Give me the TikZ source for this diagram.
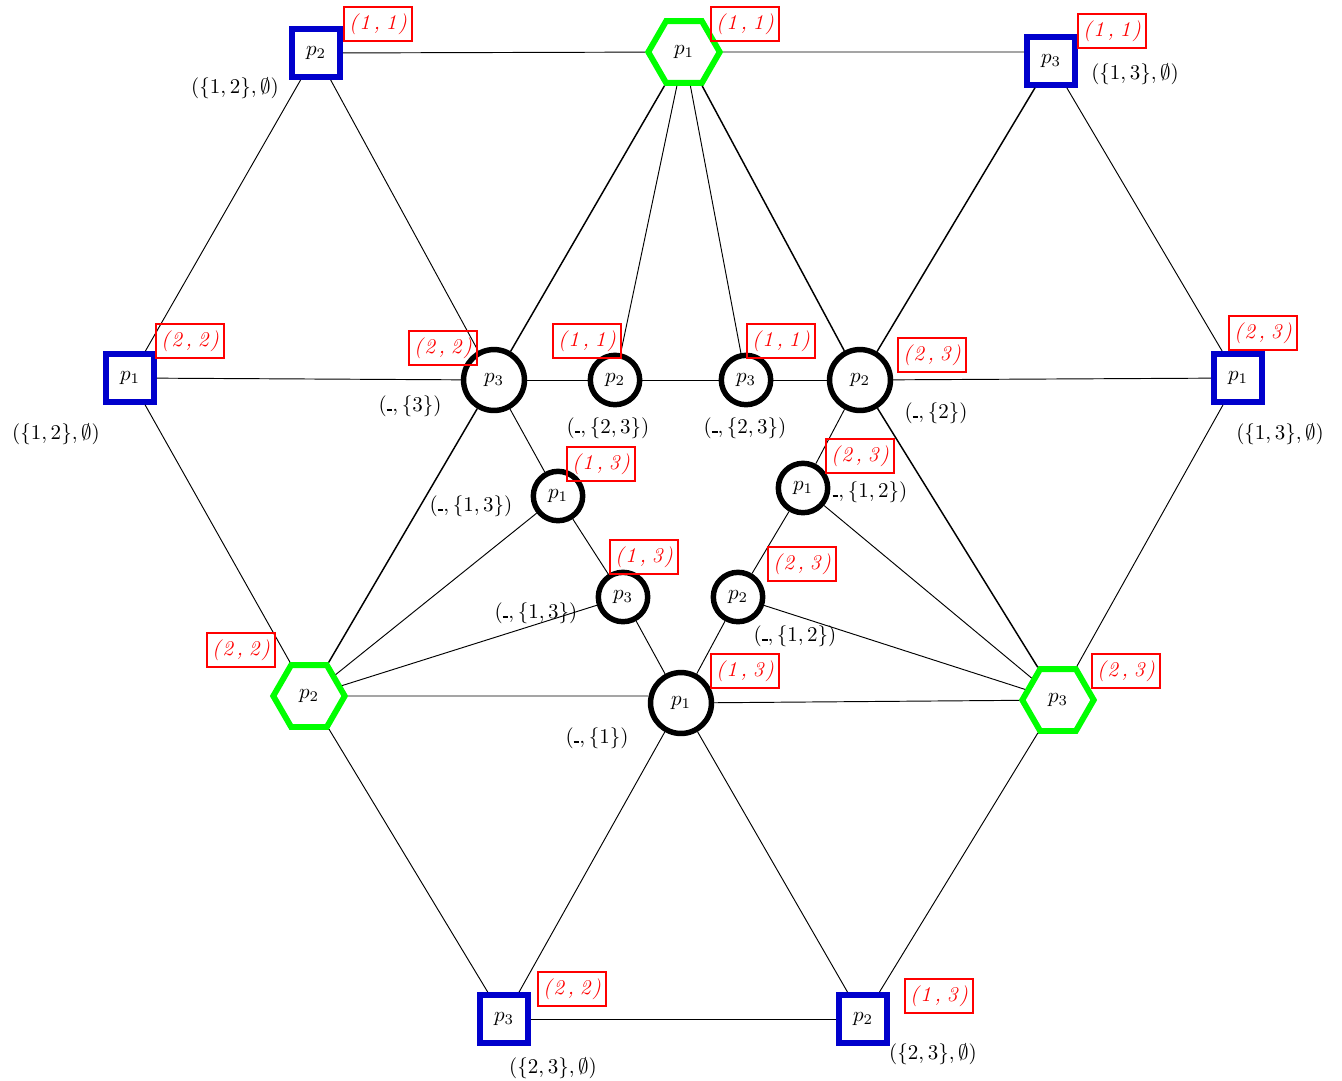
\documentclass[tikz,border=0pt]{standalone}
\usetikzlibrary{shapes.geometric}
\newcommand\ubar{\rule{2.7pt}{1.05pt}}
\newcommand\rlab[2]{(\kern0.8pt #1\,,\;#2\kern0.8pt)}
\begin{document}
\begin{tikzpicture}[x=0.476pt,y=-0.476pt,
  sq/.style={draw=blue!80!black,line width=2.8pt,minimum size=22.8pt,inner sep=0pt,fill=white},
  hexa/.style={regular polygon,regular polygon sides=6,draw=green,line width=2.8pt,minimum size=34pt,inner sep=0pt,fill=white},
  bigc/.style={circle,draw=black,line width=2.6pt,minimum size=29pt,inner sep=0pt,fill=white},
  smallc/.style={circle,draw=black,line width=2.6pt,minimum size=23.5pt,inner sep=0pt,fill=white},
  rl/.style={draw=red,line width=1pt,text=red,minimum width=32.5pt,minimum height=16.5pt,inner sep=1pt,font=\itshape},
  bl/.style={inner sep=0pt,text=black},
  ed/.style={line width=0.45pt},
  edd/.style={line width=0.7pt}]
\useasboundingbox (0,0) rectangle (1342,1080);
% outer squares
\node[sq] (A) at (316,53) {$p_2$};
\node[sq] (B) at (1051,61) {$p_3$};
\node[sq] (C) at (130,378) {$p_1$};
\node[sq] (D) at (1238,378) {$p_1$};
\node[sq] (E) at (504,1019) {$p_3$};
\node[sq] (F) at (863,1019) {$p_2$};
% hexagons
\node[hexa] (G1) at (684,52) {$p_1$};
\node[hexa] (G2) at (309,696) {$p_2$};
\node[hexa] (G3) at (1058,700) {$p_3$};
% big circles
\node[bigc] (K3) at (494,380) {$p_3$};
\node[bigc] (K2) at (860,380) {$p_2$};
\node[bigc] (K1) at (681,703) {$p_1$};
% small circles
\node[smallc] (S2) at (615,380) {$p_2$};
\node[smallc] (S3) at (746,380) {$p_3$};
\node[smallc] (L1) at (558,496) {$p_1$};
\node[smallc] (L3) at (623,597) {$p_3$};
\node[smallc] (R1) at (803,488) {$p_1$};
\node[smallc] (R2) at (738,597) {$p_2$};
% edges
\draw[ed] (A) -- (G1);
\draw[ed] (G1) -- (G1 -| B.west);
\draw[ed] (A) -- (C);
\draw[ed] (A) -- (K3);
\draw[ed] (C) -- (K3);
\draw[ed] (C) -- (G2);
\draw[edd] (G1) -- (K3);
\draw[ed] (G1) -- (S2);
\draw[ed] (G1) -- (S3);
\draw[edd] (G1) -- (K2);
\draw[edd] (B) -- (K2);
\draw[ed] (B) -- (D);
\draw[ed] (K2) -- (D);
\draw[ed] (D) -- (G3);
\draw[ed] (K3) -- (S2);
\draw[ed] (S2) -- (S3);
\draw[ed] (S3) -- (K2);
\draw[edd] (K3) -- (G2);
\draw[ed] (K3) -- (L1);
\draw[ed] (L1) -- (L3);
\draw[ed] (L3) -- (K1);
\draw[ed] (K2) -- (R1);
\draw[ed] (R1) -- (R2);
\draw[ed] (R2) -- (K1);
\draw[edd] (K2) -- (G3);
\draw[ed] (G2) -- (L1);
\draw[ed] (G2) -- (L3);
\draw[ed] (G2) -- (G2 -| K1.west);
\draw[ed] (R1) -- (G3);
\draw[ed] (R2) -- (G3);
\draw[ed] (K1) -- (G3);
\draw[ed] (G2) -- (E);
\draw[ed] (K1) -- (E);
\draw[ed] (K1) -- (F);
\draw[ed] (G3) -- (F);
\draw[ed] (E) -- (F);
% red labels
\node[rl] (rA) at (378,24) {\rlab{1}{1}};
\node[rl] (rG1) at (745,24) {\rlab{1}{1}};
\node[rl] (rB) at (1112,31) {\rlab{1}{1}};
\node[rl] (rC) at (190,341) {\rlab{2}{2}};
\node[rl] (rK3) at (443,348) {\rlab{2}{2}};
\node[rl] (rS2) at (587,341) {\rlab{1}{1}};
\node[rl] (rS3) at (781,341) {\rlab{1}{1}};
\node[rl] (rK2) at (932,355) {\rlab{2}{3}};
\node[rl] (rD) at (1263,333) {\rlab{2}{3}};
\node[rl] (rL1) at (601,464) {\rlab{1}{3}};
\node[rl] (rR1) at (860,456) {\rlab{2}{3}};
\node[rl] (rL3) at (644,557) {\rlab{1}{3}};
\node[rl] (rR2) at (802,564) {\rlab{2}{3}};
\node[rl] (rG2) at (241,650) {\rlab{2}{2}};
\node[rl] (rK1) at (745,671) {\rlab{1}{3}};
\node[rl] (rG3) at (1126,671) {\rlab{2}{3}};
\node[rl] (rE) at (572,989) {\rlab{2}{2}};
\node[rl] (rF) at (939,996) {\rlab{1}{3}};
% black labels
\node[bl] (bA) at (235,88) {$(\{1,2\},\emptyset)$};
\node[bl] (bB) at (1135,74) {$(\{1,3\},\emptyset)$};
\node[bl] (bC) at (56,434) {$(\{1,2\},\emptyset)$};
\node[bl] (bD) at (1280,434) {$(\{1,3\},\emptyset)$};
\node[bl] (bK3) at (410,406) {$(\ubar,\{3\})$};
\node[bl] (bS2) at (608,428) {$(\ubar,\{2,3\})$};
\node[bl] (bS3) at (745,428) {$(\ubar,\{2,3\})$};
\node[bl] (bK2) at (936,413) {$(\ubar,\{2\})$};
\node[bl] (bL1) at (471,506) {$(\ubar,\{1,3\})$};
\node[bl] (bR1) at (870,492) {$\ubar,\{1,2\})$};
\node[bl] (bL3) at (536,613) {$(\ubar,\{1,3\})$};
\node[bl] (bR2) at (795,636) {$(\ubar,\{1,2\})$};
\node[bl] (bK1) at (597,738) {$(\ubar,\{1\})$};
\node[bl] (bE) at (553,1068) {$(\{2,3\},\emptyset)$};
\node[bl] (bF) at (933,1054) {$(\{2,3\},\emptyset)$};
\end{tikzpicture}
\end{document}
